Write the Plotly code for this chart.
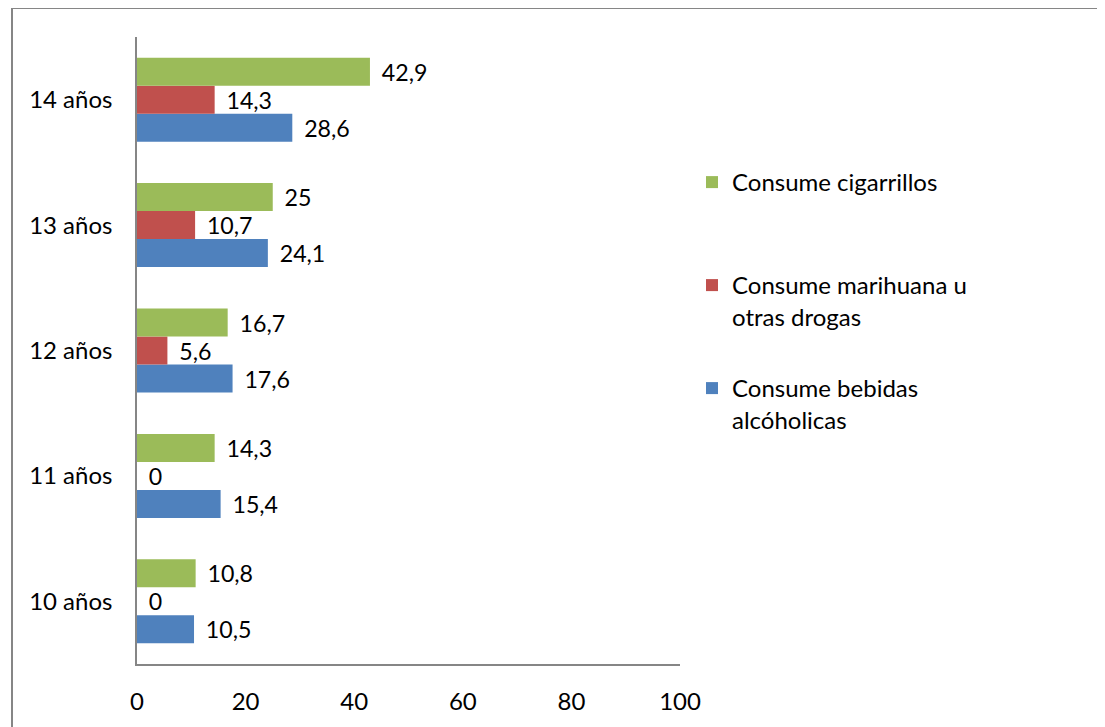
import plotly.graph_objects as go

categories = ["10 años", "11 años", "12 años", "13 años", "14 años"]
bebidas = [10.5, 15.4, 17.6, 24.1, 28.6]
marihuana = [0, 0, 5.6, 10.7, 14.3]
cigarrillos = [10.8, 14.3, 16.7, 25, 42.9]
x_ticks = [0, 20, 40, 60, 80, 100]

FONT = "Lato"
FS = 24
pad = "\u00a0\u2009"

def lab(vals):
    return [pad + (f"{v:g}".replace(".", ",")) for v in vals]

series = [
    ("Consume bebidas<br>alcóholicas", bebidas, "#4F81BD", "legend3"),
    ("Consume marihuana u<br>otras drogas", marihuana, "#C0504D", "legend2"),
    ("Consume cigarrillos", cigarrillos, "#9BBB59", "legend"),
]

fig = go.Figure()
for name, vals, col, lg in series:
    fig.add_trace(go.Bar(
        y=categories, x=vals, orientation="h", name=name,
        marker=dict(color=col, line=dict(width=0)),
        text=lab(vals), textposition="outside", cliponaxis=False,
        textfont=dict(family=FONT, size=FS, color="black"),
        legend=lg, showlegend=True,
    ))

# page body adds an 8px offset; positions below are in figure pixels
W, H = 1105, 727
OFF = 8
L, R, T, B = 137 - OFF, W - (680 - OFF), 37 - OFF, H - (664 - OFF)
ph = H - T - B
pw = W - L - R

def py(pix):
    return (H - B - pix) / ph

def px(pix):
    return (pix - L) / pw

def legend_cfg(ytop):
    return dict(x=px(684), xanchor="left", y=py(ytop), yanchor="top",
                font=dict(family=FONT, size=FS, color="black"),
                bgcolor="rgba(0,0,0,0)", valign="top", itemwidth=30,
                visible=True)

fig.update_layout(
    width=W, height=H,
    margin=dict(l=L, r=R, t=T, b=B),
    paper_bgcolor="white", plot_bgcolor="white",
    barmode="group", bargap=0.33, bargroupgap=0,
    showlegend=True,
    font=dict(family=FONT, size=FS, color="black"),
    legend=legend_cfg(152),
    legend2=legend_cfg(255),
    legend3=legend_cfg(358),
    xaxis=dict(range=[0, 100], tickvals=x_ticks, ticktext=[str(t) for t in x_ticks],
               showgrid=False, zeroline=False, showline=True, linecolor="#868686",
               linewidth=1.5, ticks="", ticklabelstandoff=15,
               tickfont=dict(family=FONT, size=FS, color="black")),
    yaxis=dict(showgrid=False, zeroline=False, showline=True, linecolor="#868686",
               linewidth=1.5, ticks="", ticklabelstandoff=18,
               tickfont=dict(family=FONT, size=FS, color="black")),
    shapes=[dict(type="rect", xref="paper", yref="paper",
                 x0=px(12 - OFF), x1=px(W + 20),
                 y0=py(H + 20), y1=py(8 - OFF),
                 line=dict(color="#868686", width=2), fillcolor="rgba(0,0,0,0)",
                 layer="below")],
)

fig.write_html("out.html")
